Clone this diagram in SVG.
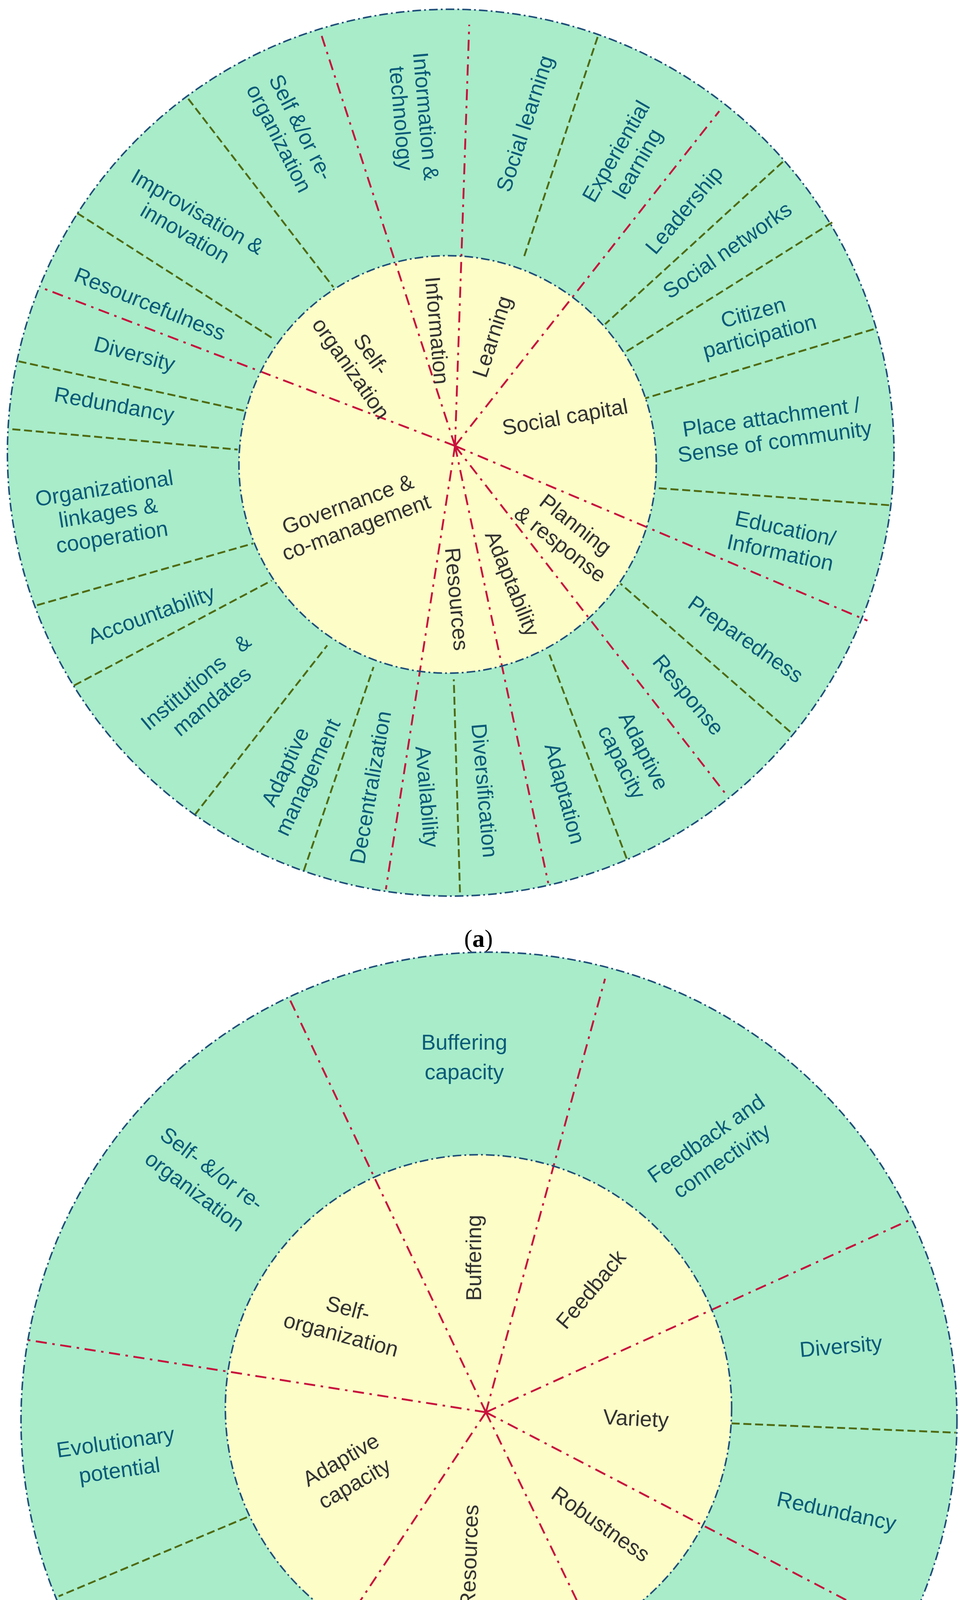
<svg xmlns="http://www.w3.org/2000/svg" width="2466" height="4975" viewBox="0 0 2466 4975">
<style>
.ring{fill:#a8ecca}
.inner{fill:#fdfdc8}
.edge{fill:none;stroke:#1f4e79;stroke-width:2.5;stroke-dasharray:14 5 3 5}
.red{stroke:#c8103c;stroke-width:3;stroke-dasharray:18 9 4 9;fill:none}
.grn{stroke:#4f6a10;stroke-width:3;stroke-dasharray:13 6;fill:none}
.t{font-family:"Liberation Sans",Arial,sans-serif;font-size:35px;fill:#0a5a78;text-anchor:middle}
.i{font-family:"Liberation Sans",Arial,sans-serif;font-size:35px;fill:#333;text-anchor:middle}
.cap{font-family:"Liberation Serif","Times New Roman",serif;font-size:40px;fill:#000;text-anchor:middle}
</style>
<rect width="2466" height="4975" fill="#fff"/>
<g id="diagram-a" transform="scale(1.581)">
<g id="a-circles">
<circle class="ring" cx="730" cy="733" r="718"/>
<circle class="inner" cx="725" cy="752" r="338"/>
</g>
<g id="a-connectors">
<path class="red" d="M737 722L520 55M737 722L760 40M737 722L1165 180M737 722L1405 1005M737 722L1175 1285M737 722L888 1430M737 722L625 1440M737 722L65 465"/>
<path class="grn" d="M305 160L540 465M125 345L445 550M30 585L395 665M20 695L385 728M60 980L410 880M120 1110L440 940M315 1320L530 1045M492 1410L605 1080M745 1445L735 1100M1015 1390L890 1060M1280 1185L1005 945M1440 818L1060 790M1415 533L1045 645M1348 360L1010 572M1268 262L980 525M968 60L848 418"/>
</g>
<g id="a-edges">
<circle class="edge" cx="730" cy="733" r="718"/>
<circle class="edge" cx="725" cy="752" r="338"/>
</g>
<g id="a-ring-labels">
<text class="t" transform="translate(470,215) rotate(63)"><tspan x="0" y="-8">Self &amp;/or re-</tspan><tspan x="0" y="32">organization</tspan></text>
<text class="t" transform="translate(670,190) rotate(85)"><tspan x="0" y="-8">Information &amp;</tspan><tspan x="0" y="32">technology</tspan></text>
<text class="t" transform="translate(850,200) rotate(-72)" y="12">Social learning</text>
<text class="t" transform="translate(1015,255) rotate(-60)"><tspan x="0" y="-8">Experiential</tspan><tspan x="0" y="32">learning</tspan></text>
<text class="t" transform="translate(1108,340) rotate(-50)" y="12">Leadership</text>
<text class="t" transform="translate(1178,405) rotate(-35)" y="12">Social networks</text>
<text class="t" transform="translate(1225,525) rotate(-15)"><tspan x="0" y="-8">Citizen</tspan><tspan x="0" y="32">participation</tspan></text>
<text class="t" transform="translate(1252,695) rotate(-8)"><tspan x="0" y="-8">Place attachment /</tspan><tspan x="0" y="32">Sense of community</tspan></text>
<text class="t" transform="translate(1268,875) rotate(12)"><tspan x="0" y="-8">Education/</tspan><tspan x="0" y="32">Information</tspan></text>
<text class="t" transform="translate(1208,1035) rotate(35)" y="12">Preparedness</text>
<text class="t" transform="translate(1115,1125) rotate(50)" y="12">Response</text>
<text class="t" transform="translate(1025,1225) rotate(63)"><tspan x="0" y="-8">Adaptive</tspan><tspan x="0" y="32">capacity</tspan></text>
<text class="t" transform="translate(915,1285) rotate(75)" y="12">Adaptation</text>
<text class="t" transform="translate(785,1280) rotate(85)" y="12">Diversification</text>
<text class="t" transform="translate(692,1290) rotate(85)" y="12">Availability</text>
<text class="t" transform="translate(600,1275) rotate(-80)" y="12">Decentralization</text>
<text class="t" transform="translate(480,1250) rotate(-65)"><tspan x="0" y="-8">Adaptive</tspan><tspan x="0" y="32">management</tspan></text>
<text class="t" transform="translate(330,1120) rotate(-40)" xml:space="preserve"><tspan x="0" y="-8">Institutions   &amp;</tspan><tspan x="0" y="32">mandates</tspan></text>
<text class="t" transform="translate(245,995) rotate(-20)" y="12">Accountability</text>
<text class="t" transform="translate(175,830) rotate(-9)"><tspan x="0" y="-28">Organizational</tspan><tspan x="0" y="12">linkages &amp;</tspan><tspan x="0" y="52">cooperation</tspan></text>
<text class="t" transform="translate(185,655) rotate(10)" y="12">Redundancy</text>
<text class="t" transform="translate(218,573) rotate(15)" y="12">Diversity</text>
<text class="t" transform="translate(243,492) rotate(22)" y="12">Resourcefulness</text>
<text class="t" transform="translate(310,360) rotate(30)"><tspan x="0" y="-8">Improvisation &amp;</tspan><tspan x="0" y="32">innovation</tspan></text>
</g>
<g id="a-inner-labels">
<text class="i" transform="translate(585,585) rotate(55)"><tspan x="0" y="-8">Self-</tspan><tspan x="0" y="32">organization</tspan></text>
<text class="i" transform="translate(708,535) rotate(85)" y="12">Information</text>
<text class="i" transform="translate(797,545) rotate(-72)" y="12">Learning</text>
<text class="i" transform="translate(915,675) rotate(-10)" y="12">Social capital</text>
<text class="i" transform="translate(920,865) rotate(38)"><tspan x="0" y="-8">Planning</tspan><tspan x="0" y="32">&amp; response</tspan></text>
<text class="i" transform="translate(830,945) rotate(68)" y="12">Adaptability</text>
<text class="i" transform="translate(740,970) rotate(85)" y="12">Resources</text>
<text class="i" transform="translate(570,835) rotate(-20)"><tspan x="0" y="-8">Governance &amp;</tspan><tspan x="0" y="32">co-management</tspan></text>
</g>
<text class="cap" x="775" y="1533">(<tspan font-weight="bold">a</tspan>)</text>
</g>
<g id="diagram-b" transform="translate(0,2466) scale(1.581)">
<g id="b-circles">
<circle class="ring" cx="792" cy="740" r="758"/>
<circle class="inner" cx="775" cy="720" r="410"/>
</g>
<g id="b-connectors">
<path class="red" d="M787 727L470 60M787 727L980 25M787 727L1475 415M787 727L1455 1075M787 727L1110 1395M787 727L365 1360M787 727L45 610"/>
<path class="grn" d="M1185 745L1548 760M745 1125L700 1475M400 897L95 1025"/>
</g>
<g id="b-edges">
<circle class="edge" cx="792" cy="740" r="758"/>
<circle class="edge" cx="775" cy="720" r="410"/>
</g>
<g id="b-ring-labels">
<text class="t" transform="translate(752,152)"><tspan x="0" y="-12">Buffering</tspan><tspan x="0" y="36">capacity</tspan></text>
<text class="t" transform="translate(1155,300) rotate(-35)"><tspan x="0" y="-8">Feedback and</tspan><tspan x="0" y="36">connectivity</tspan></text>
<text class="t" transform="translate(1362,620) rotate(-5)" y="12">Diversity</text>
<text class="t" transform="translate(1355,887) rotate(12)" y="12">Redundancy</text>
<text class="t" transform="translate(1197,1140) rotate(38)" y="12">Robustness</text>
<text class="t" transform="translate(870,1305) rotate(-85)" y="12">Abundance</text>
<text class="t" transform="translate(568,1278) rotate(-68)" y="12">Diversification</text>
<text class="t" transform="translate(315,1095) rotate(-45)" y="12">Adaptation</text>
<text class="t" transform="translate(190,797) rotate(-8)"><tspan x="0" y="-10">Evolutionary</tspan><tspan x="0" y="36">potential</tspan></text>
<text class="t" transform="translate(330,350) rotate(37)"><tspan x="0" y="-10">Self- &amp;/or re-</tspan><tspan x="0" y="36">organization</tspan></text>
</g>
<g id="b-inner-labels">
<text class="i" transform="translate(767,477) rotate(-90)" y="12">Buffering</text>
<text class="i" transform="translate(957,528) rotate(-50)" y="12">Feedback</text>
<text class="i" transform="translate(1030,737) rotate(3)" y="12">Variety</text>
<text class="i" transform="translate(973,908) rotate(35)" y="12">Robustness</text>
<text class="i" transform="translate(760,960) rotate(-88)" y="12">Resources</text>
<text class="i" transform="translate(563,823) rotate(-30)"><tspan x="0" y="-10">Adaptive</tspan><tspan x="0" y="34">capacity</tspan></text>
<text class="i" transform="translate(558,580) rotate(15)"><tspan x="0" y="-10">Self-</tspan><tspan x="0" y="34">organization</tspan></text>
</g>
<text class="cap" x="775" y="1543">(<tspan font-weight="bold">b</tspan>)</text>
</g>
</svg>
